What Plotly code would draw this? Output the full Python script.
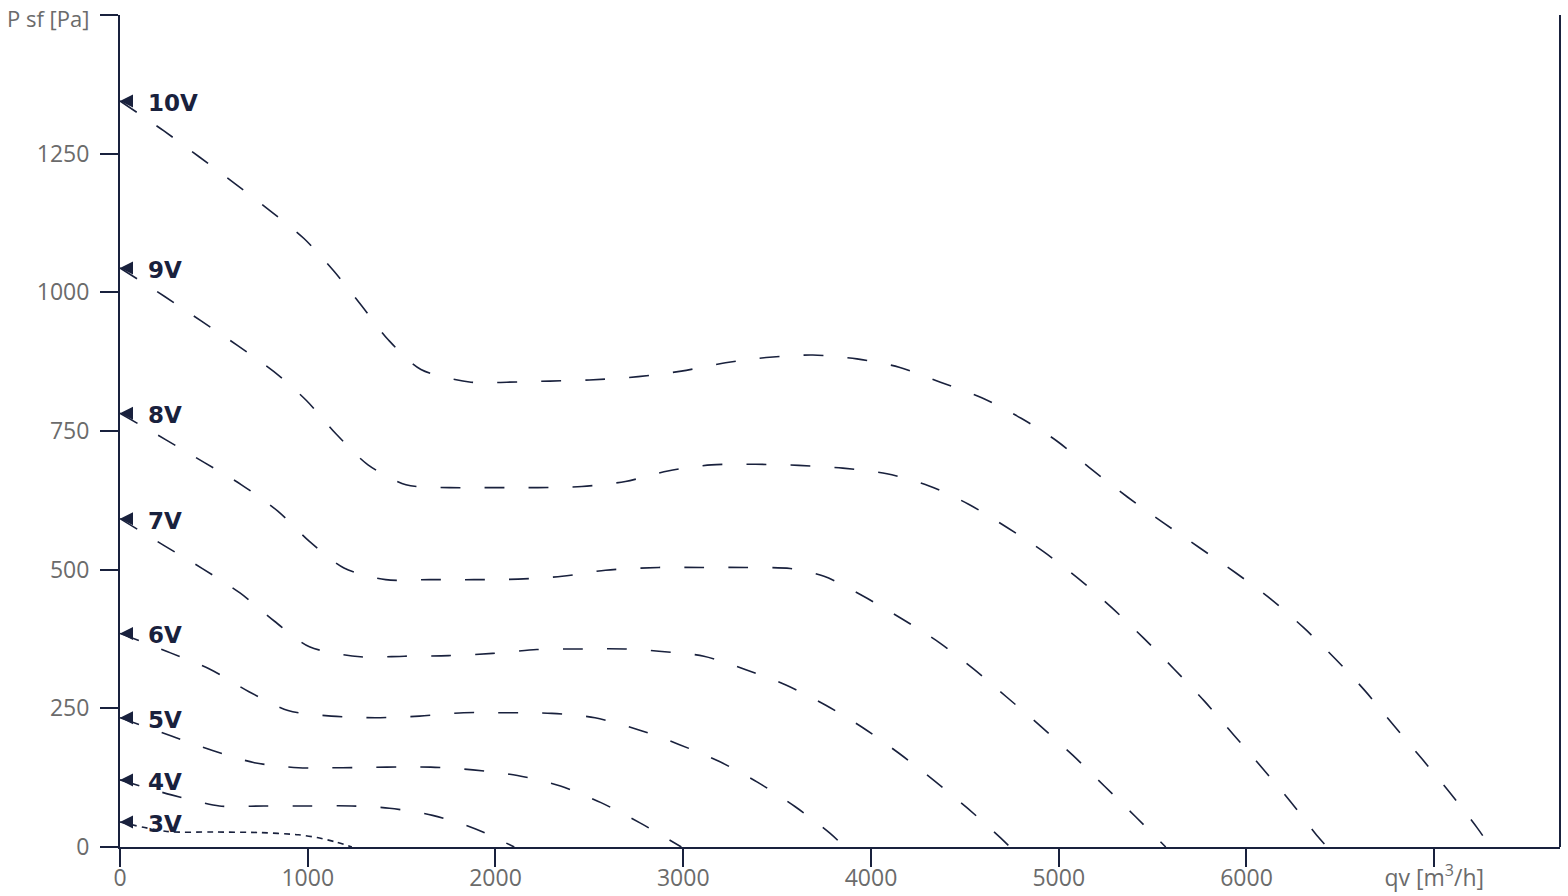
import plotly.graph_objects as go

# ---- data ----
labels = ["10V", "9V", "8V", "7V", "6V", "5V", "4V", "3V"]

x_10v = [0, 234, 423, 612, 800, 980, 1140, 1284, 1430, 1603, 1870, 2060, 2290, 2500, 2760, 2990, 3225, 3460,
         3690, 3925, 4150, 4370, 4590, 4800, 4990, 5182, 5366, 5560, 5752, 5944, 6130, 6306, 6474, 6633,
         6785, 6937, 7086, 7230, 7300]
y_10v = [1345, 1291, 1244, 1196, 1147, 1097, 1038, 977, 914, 861, 838, 838, 840, 842, 848, 858, 873, 883,
         887, 880, 865, 838, 810, 773, 732, 679, 631, 584, 539, 494, 447, 395, 339, 281,
         219, 158, 97, 34, 0]

x_9v = [0, 240, 434, 631, 820, 993, 1150, 1321, 1523, 1755, 1990, 2225, 2460, 2692, 2918, 3150, 3385, 3615,
        3850, 4085, 4310, 4520, 4725, 4921, 5105, 5281, 5451, 5614, 5776, 5930, 6085, 6234, 6380, 6430]
y_9v = [1044, 992, 948, 903, 857, 805, 745, 689, 653, 648, 648, 648, 650, 659, 678, 689, 690, 688,
        683, 673, 651, 618, 576, 532, 484, 432, 377, 321, 263, 203, 142, 82, 19, 0]

x_8v = [0, 245, 450, 647, 839, 1009, 1193, 1415, 1650, 1885, 2120, 2355, 2586, 2870, 3100, 3335, 3570,
        3750, 3960, 4162, 4362, 4546, 4724, 4903, 5073, 5243, 5411, 5570]
y_8v = [782, 734, 693, 653, 606, 551, 503, 482, 482, 482, 483, 488, 499, 504, 504, 504, 502,
        488, 452, 412, 369, 321, 270, 218, 166, 110, 54, 0]

x_7v = [0, 242, 439, 639, 823, 1009, 1280, 1515, 1750, 1985, 2220, 2450, 2690, 2870, 3110, 3330, 3547,
        3757, 3957, 4149, 4335, 4514, 4689, 4740]
y_7v = [592, 542, 502, 458, 407, 361, 343, 344, 345, 349, 356, 357, 357, 353, 344, 320, 292,
        256, 215, 169, 120, 70, 17, 0]

x_6v = [0, 269, 482, 687, 895, 1126, 1360, 1595, 1830, 2065, 2300, 2530, 2756, 2977, 3193, 3395, 3595,
        3781, 3860]
y_6v = [385, 350, 320, 280, 246, 236, 233, 236, 242, 242, 241, 233, 212, 185, 154, 117, 73, 25, 0]

x_5v = [0, 274, 493, 716, 950, 1185, 1420, 1655, 1880, 2117, 2346, 2562, 2772, 2990]
y_5v = [233, 200, 174, 152, 143, 143, 144, 144, 139, 129, 110, 80, 43, 0]

x_4v = [0, 274, 530, 765, 1000, 1235, 1435, 1665, 1891, 2100]
y_4v = [121, 94, 74, 74, 74, 74, 70, 57, 33, 0]

x_3v = [0, 250, 500, 750, 950, 1050, 1150, 1235]
y_3v = [45, 28, 27, 26, 22, 17, 9, 0]

x_ticks = [0, 1000, 2000, 3000, 4000, 5000, 6000, 7000]
x_ticktext = ["0", "1000", "2000", "3000", "4000", "5000", "6000", "qv [m<sup>3</sup>/h]"]
y_ticks = [0, 250, 500, 750, 1000, 1250, 1500]
y_ticktext = ["0", "250", "500", "750", "1000", "1250", ""]
y_title = "P sf [Pa]"

X_MAX = 7670
Y_MAX = 1500

# ---- style ----
NAVY = "#19213d"
GRAY = "#6b6b6b"
FONT = "Open Sans"
LABEL_FONT = "DejaVu Sans"

curves = [
    (x_10v, y_10v), (x_9v, y_9v), (x_8v, y_8v), (x_7v, y_7v),
    (x_6v, y_6v), (x_5v, y_5v), (x_4v, y_4v), (x_3v, y_3v),
]

fig = go.Figure()

for lab, (xs, ys) in zip(labels, curves):
    dash = "6px,5px" if lab == "3V" else "20px,24px"
    fig.add_trace(go.Scatter(
        x=xs, y=ys, mode="lines",
        line=dict(color=NAVY, width=1.6, dash=dash, shape="spline", smoothing=0.8),
        showlegend=False, hoverinfo="skip",
    ))

# start arrows
fig.add_trace(go.Scatter(
    x=[c[0][0] for c in curves], y=[c[1][0] for c in curves], mode="markers",
    marker=dict(symbol="arrow-left", size=13, color=NAVY, line=dict(width=0)),
    showlegend=False, hoverinfo="skip", cliponaxis=False,
))

for lab, (xs, ys) in zip(labels, curves):
    fig.add_annotation(
        x=xs[0], y=ys[0], xref="x", yref="y", text=f"<b>{lab}</b>",
        showarrow=False, xanchor="left", yanchor="middle", xshift=26, yshift=-2,
        font=dict(family=LABEL_FONT, size=23, color=NAVY),
    )

# y-axis title placed at the top tick position
fig.add_annotation(
    x=0, y=Y_MAX, xref="paper", yref="y", text=y_title, showarrow=False,
    xanchor="right", yanchor="middle", xshift=-29, yshift=-3,
    font=dict(family=FONT, size=22, color=GRAY),
)

fig.add_shape(type="line", xref="paper", yref="paper", x0=1, x1=1, y0=0, y1=1,
              line=dict(color=NAVY, width=2))

axis_common = dict(
    showgrid=False, zeroline=False, showline=True, linecolor=NAVY, linewidth=2,
    ticks="outside", ticklen=18, tickwidth=2, tickcolor=NAVY, automargin=False,
    tickfont=dict(family=FONT, size=23, color=GRAY),
)

fig.update_layout(
    width=1568, height=896,
    margin=dict(l=120, r=8, t=15, b=49),
    paper_bgcolor="white", plot_bgcolor="white",
    xaxis=dict(range=[0, X_MAX], tickmode="array", tickvals=x_ticks, ticktext=x_ticktext,
               ticklabelstandoff=-9, **axis_common),
    yaxis=dict(range=[0, Y_MAX], tickmode="array", tickvals=y_ticks, ticktext=y_ticktext,
               ticklabelstandoff=6, **axis_common),
)

# remove the browser's default page margin so the figure fills the window exactly
fig.write_html("out.html", config={"displayModeBar": False},
               post_script="document.body.style.margin='0';")
